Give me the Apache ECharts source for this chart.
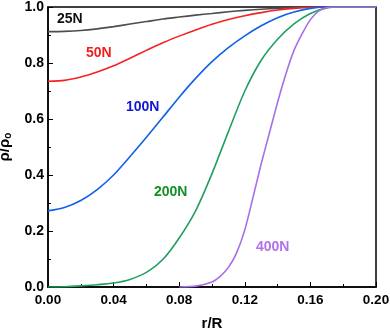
<!DOCTYPE html>
<html>
<head>
<meta charset="utf-8">
<script src="https://cdn.jsdelivr.net/npm/echarts@6/dist/echarts.min.js"></script>
<style>html,body{margin:0;padding:0;background:#fff}#c{width:390px;height:331px}</style>
</head>
<body>
<div id="c"></div>
<script>
// r/R sample points shared by the first four curves
var rCommon = [0, 0.01, 0.02, 0.03, 0.04, 0.05, 0.06, 0.07, 0.08, 0.09, 0.10, 0.11, 0.12, 0.13, 0.14, 0.15, 0.16, 0.17, 0.18, 0.20];
var rho25N  = [0.912, 0.913, 0.916, 0.922, 0.930, 0.939, 0.948, 0.957, 0.964, 0.971, 0.977, 0.983, 0.988, 0.992, 0.995, 0.998, 1.0, 1.0, 1.0, 1.0];
var rho50N  = [0.735, 0.738, 0.750, 0.768, 0.790, 0.817, 0.845, 0.872, 0.896, 0.918, 0.938, 0.955, 0.969, 0.980, 0.989, 0.995, 0.999, 1.0, 1.0, 1.0];
var rho100N = [0.272, 0.284, 0.309, 0.348, 0.400, 0.466, 0.535, 0.606, 0.678, 0.745, 0.805, 0.855, 0.897, 0.933, 0.962, 0.982, 0.995, 1.0, 1.0, 1.0];
var rho200N = [0.0, 0.001, 0.004, 0.008, 0.014, 0.027, 0.052, 0.098, 0.175, 0.272, 0.405, 0.555, 0.700, 0.810, 0.885, 0.940, 0.977, 0.997, 1.0, 1.0];
// 400N curve
var r400N   = [0.08, 0.09, 0.10, 0.105, 0.11, 0.115, 0.12, 0.125, 0.13, 0.135, 0.14, 0.145, 0.15, 0.155, 0.16, 0.165, 0.17, 0.175, 0.20];
var rho400N = [0.0, 0.003, 0.018, 0.038, 0.070, 0.122, 0.204, 0.320, 0.440, 0.550, 0.660, 0.760, 0.845, 0.905, 0.955, 0.985, 0.998, 1.0, 1.0];

var seriesNames = ['25N', '50N', '100N', '200N', '400N'];
var xTicks = [0, 0.04, 0.08, 0.12, 0.16, 0.20];
var yTicks = [0, 0.2, 0.4, 0.6, 0.8, 1.0];

function pairs(xs, ys) { return xs.map(function (x, i) { return [x, ys[i]]; }); }

var lineColors = ['#4d4d4d', '#f52222', '#1060e8', '#1fa060', '#a66ee8'];
var labelColors = ['#111111', '#f02020', '#1414d2', '#129028', '#b072ea'];
var labelPos = [[57, 12], [86, 46], [126, 100], [154, 185], [256, 240]];

var dataSets = [pairs(rCommon, rho25N), pairs(rCommon, rho50N), pairs(rCommon, rho100N), pairs(rCommon, rho200N), pairs(r400N, rho400N)];

var chart = echarts.init(document.getElementById('c'), null, {renderer: 'canvas'});
var font = 'Liberation Sans, Arial, sans-serif';
chart.setOption({
  animation: false,
  grid: {left: 48, right: 14, top: 7, bottom: 44, containLabel: false, outerBoundsMode: 'none',
    show: true, borderColor: '#000', borderWidth: 1.5, backgroundColor: 'transparent'},
  xAxis: {
    type: 'value', min: 0, max: 0.2, interval: 0.04,
    name: 'r/R', nameLocation: 'middle', nameGap: 29,
    nameTextStyle: {fontFamily: font, fontWeight: 'bold', fontSize: 15, color: '#000'},
    axisLine: {lineStyle: {color: '#000', width: 1.5}},
    axisTick: {inside: true, length: 5, lineStyle: {color: '#000', width: 1}},
    minorTick: {show: true, splitNumber: 2, length: 3, lineStyle: {color: '#000', width: 1}},
    splitLine: {show: false},
    axisLabel: {fontFamily: font, fontWeight: 'bold', fontSize: 13.5, color: '#000', margin: 6,
      formatter: function (v) { return v.toFixed(2); }}
  },
  yAxis: {
    type: 'value', min: 0, max: 1.0, interval: 0.2,
    name: 'ρ/ρ{sub|o}', nameLocation: 'middle', nameGap: 28, nameRotate: 90,
    nameTextStyle: {fontFamily: font, fontWeight: 'bold', fontSize: 15, color: '#000',
      rich: {sub: {fontFamily: font, fontWeight: 'bold', fontSize: 10, color: '#000', verticalAlign: 'bottom', padding: [8, 0, 0, 0]}}},
    axisLine: {lineStyle: {color: '#000', width: 1.5}},
    axisTick: {inside: true, length: 5, lineStyle: {color: '#000', width: 1}},
    minorTick: {show: true, splitNumber: 2, length: 3, lineStyle: {color: '#000', width: 1}},
    splitLine: {show: false},
    axisLabel: {fontFamily: font, fontWeight: 'bold', fontSize: 14, color: '#000', margin: 4,
      formatter: function (v) { return v.toFixed(1); }}
  },
  series: dataSets.map(function (d, i) {
    return {
      type: 'line', name: seriesNames[i], data: d, showSymbol: false, smooth: 0.25,
      lineStyle: {color: lineColors[i], width: 1.6}, clip: true, z: 2
    };
  }),
  graphic: seriesNames.map(function (n, i) {
    return {type: 'text', left: labelPos[i][0], top: labelPos[i][1], z: 10,
      style: {text: n, fill: labelColors[i], font: 'bold 14px ' + font}};
  })
});
</script>
</body>
</html>
